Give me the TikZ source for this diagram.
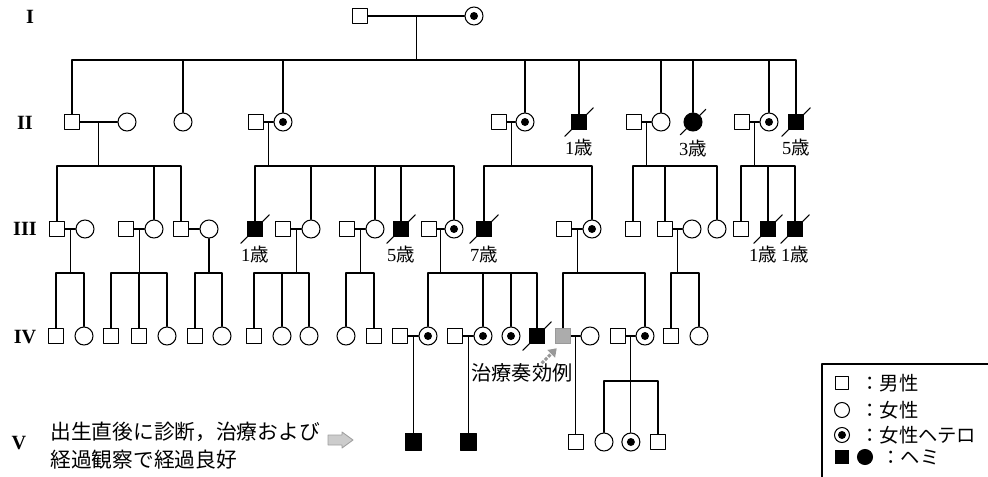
\documentclass[tikz,border=0pt]{standalone}
\usepackage{fontspec}
\setmainfont{Liberation Serif}
\newfontfamily\jp{Noto Sans CJK JP}
\usetikzlibrary{positioning,calc,arrows.meta}

\tikzset{
  pline/.style={line width=0.6pt},
  indiv/.style={draw, line width=0.6pt, inner sep=0pt},
  male/.style={indiv, rectangle, minimum size=0.31cm},
  female/.style={indiv, circle, minimum size=0.36cm},
  carrier/.style={female, path picture={\fill (path picture bounding box.center) circle (0.08cm);}},
  hemi/.style={male, fill=black},
  hemifem/.style={female, fill=black},
  treated/.style={male, fill=gray!65, draw=gray!80},
  agelbl/.style={inner sep=0pt, font=\fontsize{10.5}{12}\selectfont},
  genlbl/.style={inner sep=0pt, font=\fontsize{11.5}{13}\selectfont\bfseries},
  note/.style={inner sep=0pt, font=\jp\fontsize{11.8}{15.9}\selectfont},
  legtxt/.style={inner sep=0pt, anchor=west, font=\jp\fontsize{11}{13}\selectfont},
  blockarrow/.style={draw=gray!75, fill=gray!40, line width=0.5pt},
}

% barra per i deceduti
\newcommand\deceased[1]{\draw[pline] ($(#1.south west)+(-6,6)$) -- ($(#1.north east)+(6,-6)$);}
% linea di fratria: discendenza, livello, figli
\newcommand\sibship[3]{%
  \draw[pline] (#1) -- (#1 |- 0,#2) foreach \c in {#3} {(#1 |- 0,#2) -| (\c.north)};
}

\begin{document}
\begin{tikzpicture}[x=0.02cm, y=-0.02cm, line cap=round, line join=round]
  \useasboundingbox (0,0) rectangle (988,477);

  % generazioni
  \foreach \r/\x/\y in {I/30/17, II/25/123, III/25/229, IV/25/337, V/19/443}
    \node[genlbl] (gen\r) at (\x,\y) {\r};

  % I
  \node[male]    (g1m) at (360,16) {};
  \node[carrier] (g1f) at (474,16) {};
  \draw[pline] (g1m) -- (g1f);
  \coordinate (d1) at ($(g1m.east)!.5!(g1f.west)$);

  % II
  \node[male]    (g2a) at (72,122) {};
  \node[female]  (g2b) at (127,122) {};
  \node[female]  (g2c) at (183,122) {};
  \node[male]    (g2d) at (256,122) {};
  \node[carrier] (g2e) at (283,122) {};
  \node[male]    (g2f) at (499,122) {};
  \node[carrier] (g2g) at (525,122) {};
  \node[hemi]    (g2h) at (579,122) {};
  \node[male]    (g2i) at (634,122) {};
  \node[female]  (g2j) at (661,122) {};
  \node[hemifem] (g2k) at (693,122) {};
  \node[male]    (g2l) at (742,122) {};
  \node[carrier] (g2m) at (769,122) {};
  \node[hemi]    (g2n) at (796,122) {};
  \sibship{d1}{60}{g2a,g2c,g2e,g2g,g2h,g2j,g2k,g2m,g2n}
  \foreach \p/\q/\d in {g2a/g2b/d2a, g2d/g2e/d2b, g2f/g2g/d2c, g2i/g2j/d2d, g2l/g2m/d2e} {
    \draw[pline] (\p) -- (\q);
    \coordinate (\d) at ($(\p.east)!.5!(\q.west)$);
  }
  \foreach \n in {g2h,g2k,g2n} {\deceased{\n}}
  \node[agelbl, below=0.17cm of g2h] (a2h) {1{\jp 歳}};
  \node[agelbl, below=0.17cm of g2k] (a2k) {3{\jp 歳}};
  \node[agelbl, below=0.17cm of g2n] (a2n) {5{\jp 歳}};

  % III
  \node[male]    (g3a) at (57,229) {};
  \node[female]  (g3b) at (85,229) {};
  \node[male]    (g3c) at (126,229) {};
  \node[female]  (g3d) at (154,229) {};
  \node[male]    (g3e) at (181,229) {};
  \node[female]  (g3f) at (209,229) {};
  \node[hemi]    (g3g) at (255,229) {};
  \node[male]    (g3h) at (283,229) {};
  \node[female]  (g3i) at (311,229) {};
  \node[male]    (g3j) at (347,229) {};
  \node[female]  (g3k) at (375,229) {};
  \node[hemi]    (g3l) at (401,229) {};
  \node[male]    (g3m) at (429,229) {};
  \node[carrier] (g3n) at (454,229) {};
  \node[hemi]    (g3o) at (484,229) {};
  \node[male]    (g3p) at (564,229) {};
  \node[carrier] (g3q) at (592,229) {};
  \node[male]    (g3r) at (633,229) {};
  \node[male]    (g3s) at (665,229) {};
  \node[female]  (g3t) at (692,229) {};
  \node[female]  (g3u) at (717,229) {};
  \node[male]    (g3v) at (741,229) {};
  \node[hemi]    (g3w) at (768,229) {};
  \node[hemi]    (g3x) at (795,229) {};
  \sibship{d2a}{166}{g3a,g3d,g3e}
  \sibship{d2b}{166}{g3g,g3i,g3k,g3l,g3n}
  \sibship{d2c}{166}{g3o,g3q}
  \sibship{d2d}{166}{g3r,g3s,g3u}
  \sibship{d2e}{166}{g3v,g3w,g3x}
  \foreach \p/\q/\d in {g3a/g3b/d3a, g3c/g3d/d3b, g3h/g3i/d3d, g3j/g3k/d3e,
                        g3m/g3n/d3f, g3p/g3q/d3g, g3s/g3t/d3h} {
    \draw[pline] (\p) -- (\q);
    \coordinate (\d) at ($(\p.east)!.5!(\q.west)$);
  }
  \draw[pline] (g3e) -- (g3f);
  \coordinate (d3c) at (g3f.south);
  \foreach \n in {g3g,g3l,g3o,g3w,g3x} {\deceased{\n}}
  \node[agelbl, below=0.17cm of g3g] (a3g) {1{\jp 歳}};
  \node[agelbl, below=0.17cm of g3l] (a3l) {5{\jp 歳}};
  \node[agelbl, below=0.17cm of g3o] (a3o) {7{\jp 歳}};
  \node[agelbl, below=0.17cm of g3w, xshift=-0.1cm] (a3w) {1{\jp 歳}};
  \node[agelbl, below=0.17cm of g3x] (a3x) {1{\jp 歳}};

  % IV
  \node[male]    (g4a) at (56,336) {};
  \node[female]  (g4b) at (84,336) {};
  \node[male]    (g4c) at (111,336) {};
  \node[male]    (g4d) at (139,336) {};
  \node[female]  (g4e) at (167,336) {};
  \node[male]    (g4f) at (195,336) {};
  \node[female]  (g4g) at (222,336) {};
  \node[male]    (g4h) at (254,336) {};
  \node[female]  (g4i) at (282,336) {};
  \node[female]  (g4j) at (309,336) {};
  \node[female]  (g4k) at (346,336) {};
  \node[male]    (g4l) at (374,336) {};
  \node[male]    (g4m) at (400,336) {};
  \node[carrier] (g4n) at (428,336) {};
  \node[male]    (g4o) at (455,336) {};
  \node[carrier] (g4p) at (483,336) {};
  \node[carrier] (g4q) at (511,336) {};
  \node[hemi]    (g4r) at (537,336) {};
  \node[treated] (g4s) at (563,336) {};
  \node[female]  (g4t) at (590,336) {};
  \node[male]    (g4u) at (618,336) {};
  \node[carrier] (g4v) at (645,336) {};
  \node[male]    (g4w) at (671,336) {};
  \node[female]  (g4x) at (699,336) {};
  \sibship{d3a}{273}{g4a,g4b}
  \sibship{d3b}{273}{g4c,g4d,g4e}
  \sibship{d3c}{273}{g4f,g4g}
  \sibship{d3d}{273}{g4h,g4i,g4j}
  \sibship{d3e}{273}{g4k,g4l}
  \sibship{d3f}{273}{g4n,g4p,g4q,g4r}
  \sibship{d3g}{273}{g4s,g4v}
  \sibship{d3h}{273}{g4w,g4x}
  \foreach \p/\q/\d in {g4m/g4n/d4a, g4o/g4p/d4b, g4s/g4t/d4c, g4u/g4v/d4d} {
    \draw[pline] (\p) -- (\q);
    \coordinate (\d) at ($(\p.east)!.5!(\q.west)$);
  }
  \deceased{g4r}

  % caso trattato
  \node[note, font=\jp\fontsize{11.5}{13}\selectfont] (trt) at (522,373) {治療奏効例};
  \coordinate (trtA) at ($(g4s.south west)+(-13,19)$);
  \coordinate (trtB) at ($(g4s.south west)+(2,4)$);
  \draw[gray!80, line width=1.8pt, dash pattern=on 1.8pt off 0.8pt, line cap=butt,
        -{Triangle[length=4.5pt,width=6pt]}] (trtA) -- (trtB);

  % V
  \node[hemi, minimum size=0.33cm] (g5a) at (d4a |- 0,442) {};
  \node[hemi, minimum size=0.33cm] (g5b) at (d4b |- 0,442) {};
  \node[male]    (g5c) at (d4c |- 0,442) {};
  \node[female]  (g5d) at (604,442) {};
  \node[carrier] (g5e) at (d4d |- 0,442) {};
  \node[male]    (g5f) at (658,442) {};
  \draw[pline] (d4a) -- (g5a);
  \draw[pline] (d4b) -- (g5b);
  \draw[pline] (d4c) -- (g5c);
  \sibship{d4d}{381}{g5d,g5e,g5f}

  % nota
  \node[note, align=left, anchor=west] (vnote) at (50,446)
    {出生直後に診断，治療および\\経過観察で経過良好};
  \coordinate (va) at (328,440);
  \draw[blockarrow] (va) ++(0,-5) -- ++(14,0) -- ++(0,-3) -- ++(11,8)
    -- ++(-11,8) -- ++(0,-3) -- ++(-14,0) -- cycle;

  % legenda
  \draw[pline] (988,364) -- (822,364) -- (822,477);
  \node[male, minimum size=0.26cm]    (lgm)  at (842,383) {};
  \node[female, minimum size=0.3cm]   (lgf)  at (842,410) {};
  \node[carrier, minimum size=0.3cm]  (lgc)  at (842,435) {};
  \node[hemi, minimum size=0.27cm]    (lgh)  at (842,457) {};
  \node[hemifem, minimum size=0.3cm]  (lghf) at (865,457) {};
  \node[legtxt] (lgmt) at (860,383) {：男性};
  \node[legtxt] (lgft) at (860,410) {：女性};
  \node[legtxt] (lgct) at (860,435) {：女性ヘテロ};
  \node[legtxt] (lght) at (881,457) {：ヘミ};
\end{tikzpicture}
\end{document}
